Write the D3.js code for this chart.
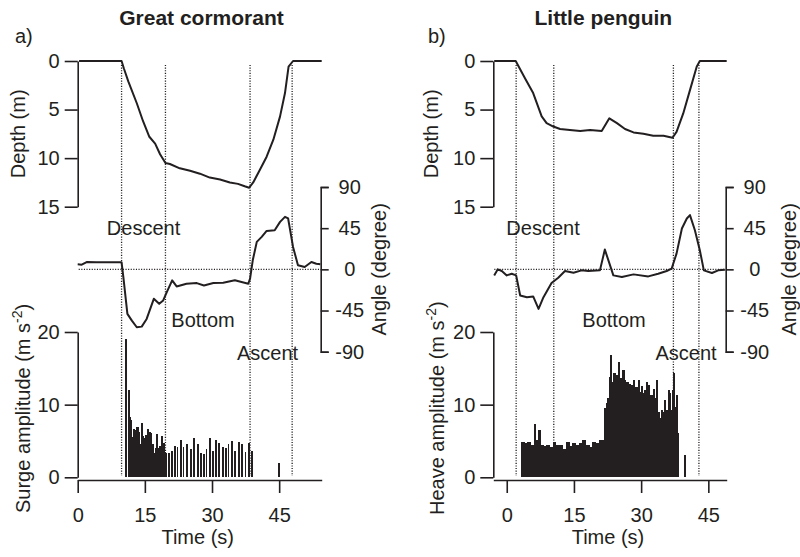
<!DOCTYPE html>
<html>
<head>
<meta charset="utf-8">
<script src="https://cdn.jsdelivr.net/npm/d3@7"></script>
<style>
body { margin: 0; background: #fff; }
svg text { font-family: "Liberation Sans", Arial, Helvetica, sans-serif; fill: #231f20; }
</style>
</head>
<body>
<div id="chart"></div>
<script>
// --- DATA --- //
// a) Great cormorant
var cormPhases = [9.8, 19.6, 38.5, 47.9];
var cormDepthTime = [0.3, 9.8, 10.3, 11.3, 13.2, 14.6, 16.0, 17.3, 18.4, 19.6, 20.6, 22.8, 25.1, 27.3, 29.5, 31.8, 34.0, 35.8, 37.3, 38.3, 39.2, 40.7, 42.2, 43.7, 45.2, 46.3, 47.1, 48.1, 54.5];
var cormDepth = [0, 0, 0.75, 2.1, 4.35, 6.2, 7.8, 8.5, 9.6, 10.5, 10.6, 11.05, 11.3, 11.6, 12.0, 12.2, 12.5, 12.65, 12.9, 13.05, 12.5, 11.2, 9.85, 8.1, 5.7, 3.3, 0.58, 0, 0];
var cormAngleTime = [0, 0.9, 2.0, 4.2, 9.8, 10.2, 11.1, 12.1, 13.2, 14.3, 15.4, 17.0, 18.2, 19.1, 19.9, 21.1, 22.1, 24.3, 26.6, 28.2, 30.3, 32.5, 35.1, 36.6, 38.1, 38.5, 39.1, 40.0, 41.1, 42.2, 44.0, 45.2, 46.3, 47.0, 48.1, 49.2, 50.7, 52.2, 53.3, 54.2];
var cormAngle = [5.5, 5.1, 8.0, 7.7, 7.7, -8.4, -48.7, -56, -63.3, -62.6, -54.2, -32.2, -37.7, -34, -24.9, -12, -18.7, -15.7, -15, -17.6, -15, -14.6, -12, -13.9, -15.7, -10.2, 9.9, 30, 35.5, 42, 42.8, 51.9, 57.4, 55.6, 24.5, 4.4, 2.5, 8, 6.2, 5.5];
var surgeTime = [10.75, 11.35, 11.7, 11.95, 12.25, 12.6, 12.95, 13.3, 13.65, 13.95, 14.25, 14.6, 14.95, 15.3, 15.65, 16.0, 16.35, 16.65, 17.0, 17.4, 17.75, 18.1, 18.45, 18.8, 19.15, 19.5, 19.85, 20.4, 21.05, 21.8, 22.3, 23.0, 23.65, 24.45, 25.25, 26.0, 26.8, 27.5, 28.15, 28.75, 29.5, 30.25, 30.9, 31.65, 32.4, 33.05, 33.7, 34.45, 35.2, 35.95, 36.7, 37.5, 38.3, 39.0, 44.9];
var surgeAmp = [19.0, 12.0, 8.3, 7.9, 5.5, 6.7, 6.5, 6.9, 6.3, 4.6, 7.5, 5.7, 5.45, 5.8, 6.6, 6.3, 6.05, 4.6, 3.3, 4.1, 5.9, 4.1, 4.3, 5.7, 4.7, 3.5, 3.3, 3.3, 3.65, 4.35, 4.2, 5.1, 4.2, 4.6, 3.85, 5.35, 4.6, 3.4, 3.15, 3.85, 5.45, 3.6, 5.1, 4.7, 4.2, 4.1, 4.6, 5.0, 3.6, 4.9, 4.6, 3.5, 4.75, 3.65, 1.9];

// b) Little penguin
var pengPhases = [2.1, 10.5, 37.2, 42.9];
var pengDepthTime = [-2.8, 2.0, 4.1, 5.9, 7.8, 8.9, 10.4, 11.9, 14.1, 16.4, 18.6, 21.2, 22.9, 24.6, 26.4, 28.3, 30.5, 32.7, 35.0, 37.0, 37.9, 39.4, 40.9, 42.4, 43.1, 49.1];
var pengDepth = [0, 0, 1.8, 3.3, 5.7, 6.4, 6.75, 7.0, 7.1, 7.2, 7.1, 7.2, 5.9, 6.4, 7.0, 7.35, 7.5, 7.7, 7.7, 7.9, 7.3, 5.4, 3.0, 0.6, 0, 0];
var pengAngleTime = [-2.8, -2.0, -1.1, 0, 1.1, 2.1, 3.0, 4.5, 5.9, 7.1, 8.2, 10.0, 11.5, 13.0, 14.9, 16.7, 18.2, 20.8, 21.9, 23.8, 25.7, 28.3, 31.6, 33.8, 35.7, 36.8, 37.9, 39.1, 40.2, 40.9, 42.0, 43.1, 44.0, 45.8, 47.2, 48.7];
var pengAngle = [-6.6, 0, -1.8, -6.6, -4.8, -6.6, -28.5, -30.4, -29.6, -43.2, -30.4, -15, -9.1, -1.8, -3.7, -1.1, -1.8, -1.1, 21.6, -6.6, -8.4, -5.5, -7.7, -4.8, -1.8, 0.7, 17.2, 44.7, 55.6, 59.3, 42.8, 20.9, -1.1, -4, -1.1, -0.4];
var heaveTime = [3.34, 4.08, 4.83, 5.57, 6.32, 6.69, 7.29, 7.81, 8.33, 8.93, 9.67, 10.42, 11.16, 11.90, 12.65, 13.39, 14.14, 14.88, 15.62, 16.37, 17.11, 17.86, 18.60, 19.34, 20.09, 20.83, 21.58, 21.95, 22.32, 22.69, 22.92, 23.21, 23.51, 23.81, 24.40, 24.93, 25.30, 25.89, 26.41, 26.79, 27.38, 27.90, 28.28, 28.65, 29.02, 29.39, 29.76, 30.13, 30.51, 30.88, 31.25, 31.62, 32.00, 32.37, 32.74, 33.11, 33.48, 33.86, 34.23, 34.60, 34.97, 35.34, 35.71, 36.09, 36.46, 36.83, 37.05, 37.35, 37.65, 37.95, 38.32, 39.8];
var heaveAmp = [4.9, 4.7, 4.9, 4.45, 7.4, 5.1, 6.5, 4.45, 4.3, 4.45, 4.2, 4.9, 4.5, 4.45, 3.85, 4.9, 4.3, 4.75, 4.45, 4.7, 5.1, 4.45, 4.2, 4.9, 4.75, 5.1, 5.1, 9.5, 10.2, 10.9, 13.85, 16.8, 13.15, 14.3, 14.1, 15.9, 13.6, 14.75, 13.4, 13.15, 12.9, 12.7, 13.4, 12.45, 12.45, 13.4, 11.8, 12.6, 11.6, 12.0, 13.15, 12.7, 11.35, 11.35, 12.2, 10.9, 13.4, 9.0, 8.1, 9.25, 9.0, 10.7, 9.25, 12.0, 11.6, 9.25, 12.0, 14.3, 9.7, 11.35, 6.05, 3.07];

// tick labels
var timeTicks = [0, 15, 30, 45];
var depthTicks = [0, 5, 10, 15];
var angleTicks = [-90, -45, 0, 45, 90];
var ampTicks = [0, 10, 20];
var phaseNames = ["Descent", "Bottom", "Ascent"];

var ink = "#231f20";
var font = "'Liberation Sans', Arial, Helvetica, sans-serif";

var svg = d3.select("#chart")
    .append("svg")
    .attr("width", 800)
    .attr("height", 557);

// shared vertical scales
var yDepth = d3.scaleLinear().domain([0, 15]).range([61, 206.7]);
var yAngle = d3.scaleLinear().domain([-90, 90]).range([351.7, 187]);
var yAmp = d3.scaleLinear().domain([0, 20]).range([477.3, 332]);

function zip(a, b) {
    return a.map(function(d, i) { return {t: d, v: b[i]}; });
}

// plain hyphen for negatives, like the original figure
var plain = function(d) { return String(d); };

function styleAxis(g) {
    g.attr("font-size", 20).attr("font-family", font);
    g.selectAll("path, line").attr("stroke", ink).attr("stroke-width", 1.6);
    g.selectAll("text").attr("fill", ink);
}

function dotted(sel) {
    sel.attr("stroke", ink)
        .attr("stroke-width", 1.3)
        .attr("stroke-dasharray", "1.1,1.5");
}

function drawPanel(p) {
    var x = d3.scaleLinear().domain(p.xDomain).range(p.xRange);
    var x0 = p.xRange[0], x1 = p.xRange[1];
    var angleX = x1 - 1;
    var g = svg.append("g");

    // --- PHASE LINES --- //
    g.selectAll(".phase")
        .data(p.phases)
        .enter()
        .append("line")
        .attr("x1", d => x(d)).attr("x2", d => x(d))
        .attr("y1", 65).attr("y2", 476)
        .call(dotted);

    // zero angle reference
    g.append("line")
        .attr("x1", x0 + 1).attr("x2", angleX)
        .attr("y1", yAngle(0)).attr("y2", yAngle(0))
        .call(dotted);

    // --- BARS --- //
    // consecutive strokes closer than p.fillGap seconds merge into a solid block
    var bars = zip(p.barTime, p.barAmp);
    g.selectAll(".bar")
        .data(bars)
        .enter()
        .append("rect")
        .attr("shape-rendering", "crispEdges")
        .attr("x", d => x(d.t) - 0.9)
        .attr("width", function(d, i) {
            var nxt = bars[i + 1];
            if (nxt && nxt.t - d.t < p.fillGap) return x(nxt.t) - x(d.t) + 0.6;
            return 1.8;
        })
        .attr("y", d => yAmp(d.v))
        .attr("height", d => yAmp(0) - yAmp(d.v))
        .attr("fill", ink);

    // --- LINES --- //
    g.append("path")
        .datum(zip(p.depthTime, p.depth))
        .attr("fill", "none")
        .attr("stroke", ink)
        .attr("stroke-width", 2)
        .attr("stroke-linejoin", "round")
        .attr("d", d3.line().x(d => x(d.t)).y(d => yDepth(d.v)));

    g.append("path")
        .datum(zip(p.angleTime, p.angle))
        .attr("fill", "none")
        .attr("stroke", ink)
        .attr("stroke-width", 2)
        .attr("stroke-linejoin", "round")
        .attr("d", d3.line().x(d => x(d.t)).y(d => yAngle(d.v)));

    // --- AXES --- //
    g.append("g")
        .attr("transform", "translate(" + x0 + ",0)")
        .call(d3.axisLeft(yDepth).tickValues(depthTicks).tickFormat(plain).tickSize(13).tickSizeOuter(0).tickPadding(5))
        .call(styleAxis);

    g.append("g")
        .attr("transform", "translate(" + x0 + ",0)")
        .call(d3.axisLeft(yAmp).tickValues(ampTicks).tickFormat(plain).tickSize(13).tickSizeOuter(0).tickPadding(5))
        .call(styleAxis);

    g.append("g")
        .attr("transform", "translate(0,480)")
        .call(d3.axisBottom(x).tickValues(timeTicks).tickFormat(plain).tickSize(13).tickSizeOuter(0).tickPadding(15))
        .call(styleAxis);

    var ang = g.append("g")
        .attr("transform", "translate(" + angleX + ",0)")
        .call(d3.axisRight(yAngle).tickValues(angleTicks).tickFormat(plain).tickSize(8).tickSizeOuter(8))
        .call(styleAxis);
    ang.selectAll("text").attr("text-anchor", "middle").attr("x", 29);

    // --- LABELS --- //
    g.append("text")
        .attr("x", p.titleX).attr("y", 25)
        .attr("text-anchor", "middle")
        .attr("font-size", "21px")
        .attr("font-weight", "bold")
        .text(p.title);

    g.append("text")
        .attr("x", p.tagX).attr("y", 43)
        .attr("font-size", "20px")
        .text(p.tag);

    g.append("text")
        .attr("x", (x0 + x1) / 2 - 2).attr("y", 544)
        .attr("text-anchor", "middle")
        .attr("font-size", "20px")
        .text("Time (s)");

    g.append("text")
        .attr("transform", "translate(" + p.depthLabelX + "," + yDepth(7.5) + ") rotate(-90)")
        .attr("text-anchor", "middle")
        .attr("font-size", "20px")
        .text("Depth (m)");

    var amp = g.append("text")
        .attr("transform", "translate(" + p.ampLabelX + "," + p.ampLabelY + ") rotate(-90)")
        .attr("font-size", "20px");
    amp.append("tspan").text(p.ampLabel + " (m s");
    amp.append("tspan").attr("font-size", "14px").attr("dy", -8).text("-2");
    amp.append("tspan").attr("dy", 8).text(")");

    g.append("text")
        .attr("transform", "translate(" + p.angleLabelX + "," + yAngle(0) + ") rotate(-90)")
        .attr("text-anchor", "middle")
        .attr("font-size", "20px")
        .text("Angle (degree)");

    g.selectAll(".phaseName")
        .data(phaseNames)
        .enter()
        .append("text")
        .attr("x", (d, i) => p.nameX[i])
        .attr("y", (d, i) => [235, 327, 360][i])
        .attr("text-anchor", "middle")
        .attr("font-size", "20px")
        .text(d => d);
}

drawPanel({
    title: "Great cormorant", titleX: 201.5, tag: "a)", tagX: 15,
    xDomain: [0, 54.5], xRange: [77.7, 321.7],
    phases: cormPhases,
    depthTime: cormDepthTime, depth: cormDepth,
    angleTime: cormAngleTime, angle: cormAngle,
    barTime: surgeTime, barAmp: surgeAmp, fillGap: 0.5,
    ampLabel: "Surge amplitude", ampLabelX: 30, ampLabelY: 513,
    depthLabelX: 25, angleLabelX: 386,
    nameX: [143.5, 203, 267.5]
});

drawPanel({
    title: "Little penguin", titleX: 603.3, tag: "b)", tagX: 428,
    xDomain: [-3, 49.1], xRange: [493.3, 726.7],
    phases: pengPhases,
    depthTime: pengDepthTime, depth: pengDepth,
    angleTime: pengAngleTime, angle: pengAngle,
    barTime: heaveTime, barAmp: heaveAmp, fillGap: 1,
    ampLabel: "Heave amplitude", ampLabelX: 444, ampLabelY: 515,
    depthLabelX: 437.5, angleLabelX: 796,
    nameX: [543, 614, 686]
});
</script>
</body>
</html>
